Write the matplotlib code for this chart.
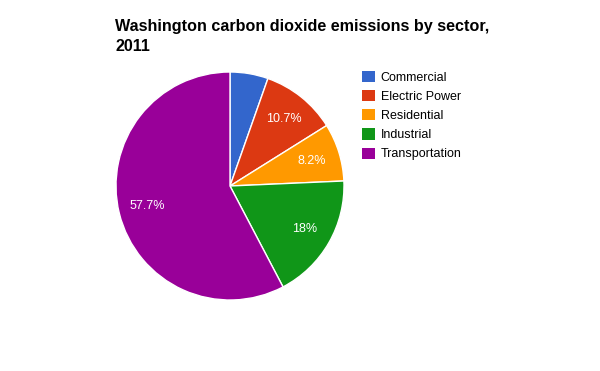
import matplotlib
matplotlib.use("Agg")
import matplotlib.pyplot as plt
from matplotlib.patches import Patch

title = "Washington carbon dioxide emissions by sector,\n2011"
sectors = ["Commercial", "Electric Power", "Residential", "Industrial", "Transportation"]
shares = [5.4, 10.7, 8.2, 18.0, 57.7]
colors = ["#3366cc", "#dc3912", "#ff9900", "#109618", "#990099"]
label_threshold = 6.0

plt.rcParams['font.family'] = ['Liberation Sans', 'DejaVu Sans']

W, H = 600, 371
fig = plt.figure(figsize=(W / 100, H / 100), dpi=100)
fig.patch.set_facecolor("white")

cx, cy, r = 230, 186, 114
ax = fig.add_axes([(cx - r) / W, (H - cy - r) / H, 2 * r / W, 2 * r / H])

def fmt(p):
    if p < label_threshold:
        return ""
    s = f"{p:.1f}"
    if s.endswith(".0"):
        s = s[:-2]
    return s + "%"

wedges, texts, autotexts = ax.pie(
    shares, colors=colors, startangle=90, counterclock=False, radius=1,
    autopct=fmt, pctdistance=0.75,
    wedgeprops=dict(edgecolor="white", linewidth=1),
    textprops=dict(color="white", fontsize=9),
)
ax.set_xlim(-1, 1)
ax.set_ylim(-1, 1)
ax.set_aspect("equal")
ax.axis("off")

fig.text(115 / W, 1 - 19 / H, title, ha="left", va="top", fontsize=11.6,
         fontweight="bold", linespacing=1.45)

handles = [Patch(facecolor=c, edgecolor="none") for c in colors]
fig.legend(handles, sectors, loc="upper left",
           bbox_to_anchor=(362 / W, 1 - 71 / H), frameon=False,
           fontsize=9, handlelength=1.0, handleheight=1.0,
           handletextpad=0.5, labelspacing=0.5, borderpad=0, borderaxespad=0)

fig.savefig("out.png", dpi=100, facecolor="white")
